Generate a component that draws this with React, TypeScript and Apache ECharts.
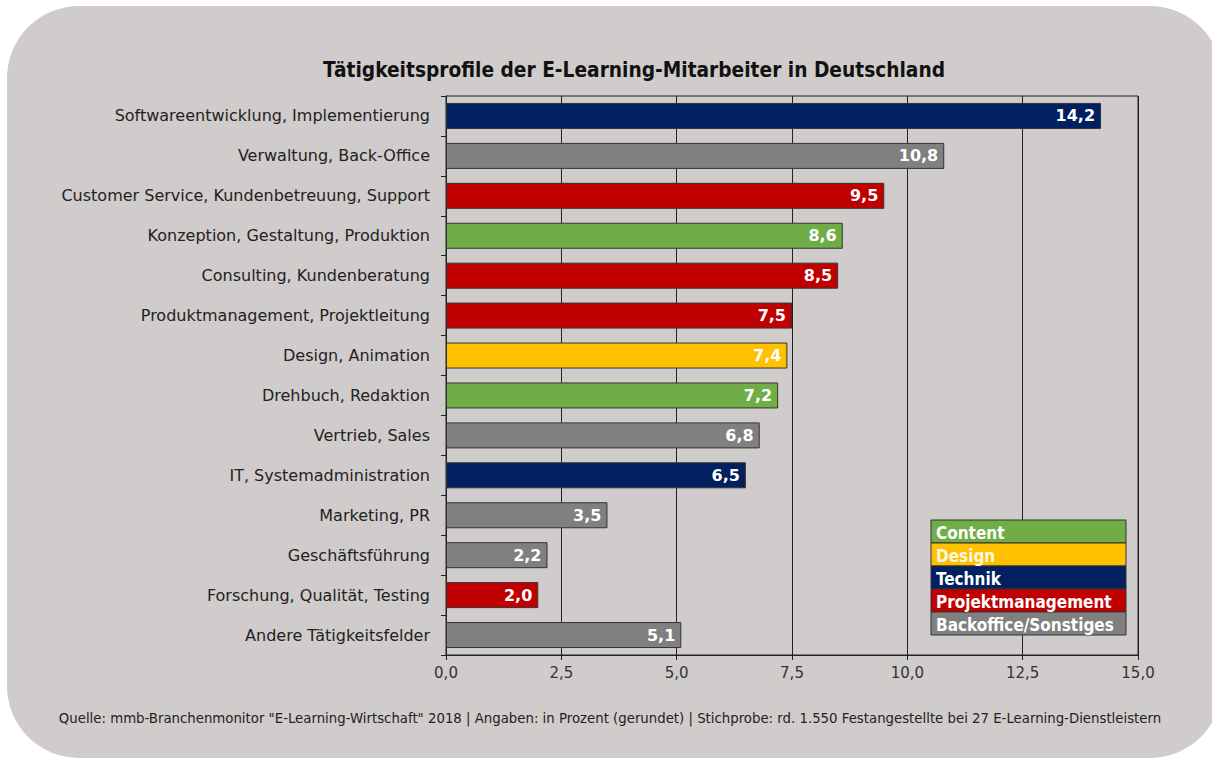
import React, { useEffect, useRef } from "react";
import * as echarts from "echarts";

const categories = [
  "Softwareentwicklung, Implementierung",
  "Verwaltung, Back-Office",
  "Customer Service, Kundenbetreuung, Support",
  "Konzeption, Gestaltung, Produktion",
  "Consulting, Kundenberatung",
  "Produktmanagement, Projektleitung",
  "Design, Animation",
  "Drehbuch, Redaktion",
  "Vertrieb, Sales",
  "IT, Systemadministration",
  "Marketing, PR",
  "Geschäftsführung",
  "Forschung, Qualität, Testing",
  "Andere Tätigkeitsfelder",
];
const values = [14.2, 10.8, 9.5, 8.6, 8.5, 7.5, 7.4, 7.2, 6.8, 6.5, 3.5, 2.2, 2.0, 5.1];
const groups = [
  "Technik", "Backoffice/Sonstiges", "Projektmanagement", "Content", "Projektmanagement",
  "Projektmanagement", "Design", "Content", "Backoffice/Sonstiges", "Technik",
  "Backoffice/Sonstiges", "Backoffice/Sonstiges", "Projektmanagement", "Backoffice/Sonstiges",
];
const legendNames = ["Content", "Design", "Technik", "Projektmanagement", "Backoffice/Sonstiges"];
const groupColors: Record<string, string> = {
  Content: "#70ad47",
  Design: "#ffc000",
  Technik: "#002060",
  Projektmanagement: "#c00000",
  "Backoffice/Sonstiges": "#808080",
};
const xTicks = { min: 0, max: 15, interval: 2.5 };
const title = "Tätigkeitsprofile der E-Learning-Mitarbeiter in Deutschland";
const footer =
  'Quelle: mmb-Branchenmonitor "E-Learning-Wirtschaft" 2018 | Angaben: in Prozent (gerundet) | Stichprobe: rd. 1.550 Festangestellte bei 27 E-Learning-Dienstleistern';

const fmt = (v: number) => v.toFixed(1).replace(".", ",");
const narrow = "'Liberation Sans Narrow', 'DejaVu Sans Condensed', sans-serif";

export default function App() {
  const ref = useRef<HTMLDivElement>(null);
  useEffect(() => {
    if (!ref.current) return;
    document.body.style.margin = "0";
    const chart = echarts.init(ref.current, undefined, { renderer: "svg" });
    const legendX = 931;
    const legendY = 520;
    const rowH = 23;
    const legendItems: any[] = [];
    legendNames.forEach((n, i) => {
      legendItems.push({
        type: "rect",
        shape: { x: legendX, y: legendY + i * rowH, width: 195, height: rowH },
        style: { fill: groupColors[n], stroke: "#333", lineWidth: 1 },
        z: 100,
      });
      legendItems.push({
        type: "text",
        x: legendX + 5,
        y: legendY + i * rowH + rowH / 2 + 1,
        style: {
          text: n,
          fill: n === "Design" ? "#fff8e0" : "#ffffff",
          font: "bold 17px " + narrow,
          verticalAlign: "middle",
        },
        z: 101,
      });
    });
    chart.setOption({
      animation: false,
      backgroundColor: "#ffffff",
      graphic: [
        {
          type: "rect",
          shape: { x: 7, y: 6, width: 1215, height: 752, r: 72 },
          style: { fill: "#d0cccb" },
          z: -10,
        },
        {
          type: "text",
          x: 634,
          y: 70,
          style: {
            text: title,
            fill: "#111",
            font: "bold 20.7px " + narrow,
            align: "center",
            verticalAlign: "middle",
          },
        },
        {
          type: "text",
          x: 610,
          y: 718,
          style: {
            text: footer,
            fill: "#222",
            font: "13.3px 'DejaVu Sans', sans-serif",
            align: "center",
            verticalAlign: "middle",
          },
        },
        ...legendItems,
      ],
      grid: {
        left: 446,
        right: 74,
        top: 96,
        bottom: 105,
        show: true,
        borderColor: "#222",
        borderWidth: 1,
        backgroundColor: "transparent",
      },
      xAxis: {
        type: "value",
        min: xTicks.min,
        max: xTicks.max,
        interval: xTicks.interval,
        axisLine: { show: true, lineStyle: { color: "#222", width: 1 } },
        axisTick: { show: true, length: 5, lineStyle: { color: "#222" } },
        splitLine: { show: true, lineStyle: { color: "#222", width: 1 } },
        axisLabel: {
          formatter: (v: number) => fmt(v),
          color: "#333",
          fontSize: 15,
          fontFamily: "'DejaVu Sans', sans-serif",
          margin: 10,
        },
      },
      yAxis: {
        type: "category",
        inverse: true,
        data: categories,
        axisLine: { show: true, lineStyle: { color: "#222", width: 1 } },
        axisTick: { show: true, length: 5, lineStyle: { color: "#222" } },
        axisLabel: {
          color: "#222",
          fontSize: 16,
          fontFamily: "'DejaVu Sans', sans-serif",
          margin: 16,
        },
      },
      series: [
        {
          type: "bar",
          barWidth: 26,
          data: values.map((v, i) => ({
            value: v,
            itemStyle: { color: groupColors[groups[i]], borderColor: "#333", borderWidth: 1 },
          })),
          label: {
            show: true,
            position: "insideRight",
            distance: 6,
            formatter: (p: any) => fmt(p.value),
            color: "#fff",
            fontSize: 16,
            fontWeight: "bold",
            fontFamily: "'DejaVu Sans', sans-serif",
          },
        },
      ],
    });
    return () => chart.dispose();
  }, []);
  return <div ref={ref} style={{ width: 1212, height: 760 }} />;
}
